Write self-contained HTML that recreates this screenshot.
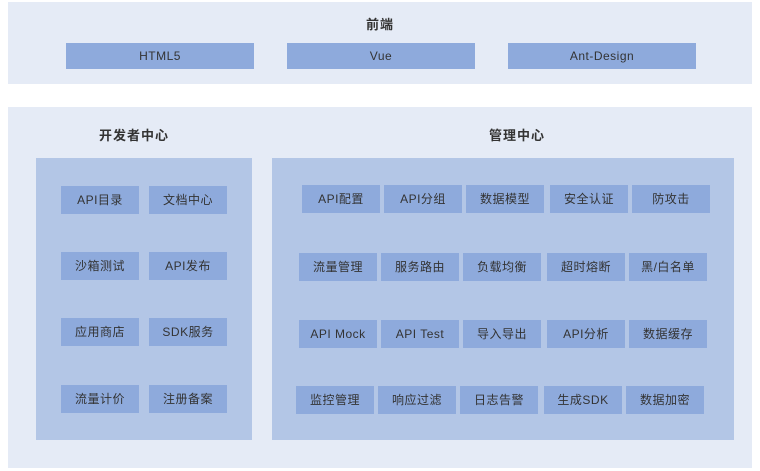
<!DOCTYPE html>
<html><head><meta charset="utf-8"><style>
body{margin:0;width:760px;height:471px;background:#fff;position:relative;overflow:hidden;font-family:"Liberation Sans","Noto Sans CJK SC",sans-serif;color:#333}
div{position:absolute;box-sizing:border-box}
.p{background:#e5ebf6}
.in{background:#b3c6e6}
.b{background:#8eaadc;height:28px;line-height:28px;text-align:center;font-size:12px;width:78px;letter-spacing:0.5px}
.t{font-size:13px;font-weight:bold;text-align:center;letter-spacing:1px}
</style></head><body>
<div class="p" style="left:8px;top:2px;width:744px;height:82px"></div>
<div class="t" style="left:330px;top:14px;width:100px">前端</div>
<div class="b" style="left:66px;top:43px;width:188px;height:26px;line-height:26px">HTML5</div>
<div class="b" style="left:287px;top:43px;width:188px;height:26px;line-height:26px">Vue</div>
<div class="b" style="left:508px;top:43px;width:188px;height:26px;line-height:26px">Ant-Design</div>

<div class="p" style="left:8px;top:107px;width:744px;height:361px"></div>
<div class="t" style="left:74px;top:125px;width:120px">开发者中心</div>
<div class="t" style="left:457px;top:125px;width:120px">管理中心</div>
<div class="in" style="left:36px;top:158px;width:216px;height:282px"></div>
<div class="in" style="left:272px;top:158px;width:462px;height:282px"></div>

<div class="b" style="left:61px;top:186px">API目录</div>
<div class="b" style="left:149px;top:186px">文档中心</div>
<div class="b" style="left:61px;top:252px">沙箱测试</div>
<div class="b" style="left:149px;top:252px">API发布</div>
<div class="b" style="left:61px;top:318px">应用商店</div>
<div class="b" style="left:149px;top:318px">SDK服务</div>
<div class="b" style="left:61px;top:385px">流量计价</div>
<div class="b" style="left:149px;top:385px">注册备案</div>

<div class="b" style="left:302px;top:185px">API配置</div>
<div class="b" style="left:384px;top:185px">API分组</div>
<div class="b" style="left:466px;top:185px">数据模型</div>
<div class="b" style="left:550px;top:185px">安全认证</div>
<div class="b" style="left:632px;top:185px">防攻击</div>

<div class="b" style="left:299px;top:253px">流量管理</div>
<div class="b" style="left:381px;top:253px">服务路由</div>
<div class="b" style="left:463px;top:253px">负载均衡</div>
<div class="b" style="left:547px;top:253px">超时熔断</div>
<div class="b" style="left:629px;top:253px">黑/白名单</div>

<div class="b" style="left:299px;top:320px">API Mock</div>
<div class="b" style="left:381px;top:320px">API Test</div>
<div class="b" style="left:463px;top:320px">导入导出</div>
<div class="b" style="left:547px;top:320px">API分析</div>
<div class="b" style="left:629px;top:320px">数据缓存</div>

<div class="b" style="left:296px;top:386px">监控管理</div>
<div class="b" style="left:378px;top:386px">响应过滤</div>
<div class="b" style="left:460px;top:386px">日志告警</div>
<div class="b" style="left:544px;top:386px">生成SDK</div>
<div class="b" style="left:626px;top:386px">数据加密</div>
</body></html>
